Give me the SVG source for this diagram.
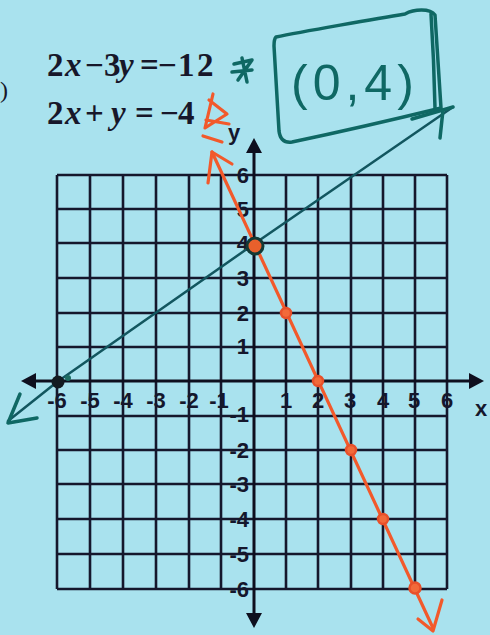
<svg xmlns="http://www.w3.org/2000/svg" width="490" height="635" viewBox="0 0 490 635">
<style>
.grid{stroke:#15172c;stroke-width:2.6;fill:none}
.axis{stroke:#0e0f1e;stroke-width:3;fill:none}
.head{fill:#0e0f1e}
.lbl{font-family:"Liberation Sans",Arial,sans-serif;font-size:22px;font-weight:bold;fill:#15172c}
.eq{font-family:"Liberation Serif","Times New Roman",serif;font-weight:bold;font-size:33px;fill:#17172a}
.it{font-style:italic}
.teal{stroke:#12565f;stroke-width:2.5;fill:none;stroke-linecap:round;stroke-linejoin:round}
.pen{stroke:#0f6864;stroke-width:3.5;fill:none;stroke-linecap:round;stroke-linejoin:round}
.org{stroke:#f2592b;stroke-width:3.2;fill:none;stroke-linecap:round;stroke-linejoin:round}
.pt{fill:#f26a3a;stroke:#e8502a;stroke-width:2.5}
</style>
<rect width="490" height="635" fill="#a9e2ee"/>

<g id="grid" class="grid">
<path d="M57,175V589M90,175V589M123,175V589M156,175V589M189,175V589M221,175V589M286,175V589M318,175V589M351,175V589M383,175V589M415,175V589M447,175V589"/>
<path d="M57,175H447M57,209H447M57,243H447M57,278H447M57,313H447M57,347H447M57,416H447M57,450H447M57,484H447M57,519H447M57,554H447M57,589H447"/>
</g>

<g id="axes">
<path class="axis" d="M254,150V616M34,381H472"/>
<polygon class="head" points="254,138 246,153 262,153"/>
<polygon class="head" points="254,628 246,613 262,613"/>
<polygon class="head" points="21,381 36,373 36,389"/>
<polygon class="head" points="484,381 469,373 469,389"/>
<text class="lbl" x="228" y="140" font-size="24" font-weight="normal">y</text>
<text class="lbl" x="475" y="416" font-weight="normal">x</text>
</g>

<g id="x-labels" class="lbl" text-anchor="middle">
<text x="57" y="408">-6</text>
<text x="90" y="408">-5</text>
<text x="123" y="408">-4</text>
<text x="156" y="408">-3</text>
<text x="189" y="408">-2</text>
<text x="219" y="408">-1</text>
<text x="286" y="408">1</text>
<text x="318" y="408">2</text>
<text x="350" y="408">3</text>
<text x="383" y="408">4</text>
<text x="414" y="408">5</text>
<text x="447" y="408">6</text>
</g>

<g id="y-labels" class="lbl" text-anchor="end">
<text x="249" y="183">6</text>
<text x="249" y="217">5</text>
<text x="249" y="251">4</text>
<text x="249" y="286">3</text>
<text x="249" y="321">2</text>
<text x="249" y="354">1</text>
<text x="249" y="422">-1</text>
<text x="249" y="458">-2</text>
<text x="249" y="492">-3</text>
<text x="249" y="527">-4</text>
<text x="249" y="562">-5</text>
<text x="249" y="597">-6</text>
</g>

<g id="equations" class="eq">
<text y="76"><tspan x="47">2</tspan><tspan class="it" x="65">x</tspan><tspan x="85">−</tspan><tspan x="104">3</tspan><tspan class="it" x="119">y</tspan><tspan x="140">=</tspan><tspan x="158">−</tspan><tspan x="178">1</tspan><tspan x="197">2</tspan></text>
<text y="124"><tspan x="47">2</tspan><tspan class="it" x="65">x</tspan><tspan x="85">+</tspan><tspan class="it" x="111">y</tspan><tspan x="135">=</tspan><tspan x="160">−</tspan><tspan x="178">4</tspan></text>
<text x="0" y="98" font-size="24" font-weight="normal">)</text>
</g>

<g id="teal-line">
<polyline class="teal" points="8,421 57,382 254,244 453,107"/>
<path class="pen" d="M20,394L8,423L37,418"/>
<path class="pen" stroke-width="4.5" d="M412,119L453,107"/>
<path class="pen" d="M443,110L440,138"/>
<circle cx="58" cy="382" r="6.5" fill="#121a20"/>
<circle cx="68" cy="378" r="3" fill="#1d6d62"/>
</g>

<g id="orange-line">
<line class="org" x1="212" y1="152" x2="433" y2="628"/>
<path class="org" stroke-width="4" d="M208,183L212,152L232,164"/>
<path class="org" stroke-width="4" d="M418,619L433,631L442,600"/>
<circle class="pt" cx="286" cy="313" r="5"/>
<circle class="pt" cx="318" cy="381" r="5"/>
<circle class="pt" cx="351" cy="450" r="5"/>
<circle class="pt" cx="383" cy="519" r="5"/>
<circle class="pt" cx="415" cy="588" r="5.5"/>
</g>

<g id="solution">
<circle cx="255" cy="246" r="8" fill="#e8602c" stroke="#133a36" stroke-width="3"/>
<path class="pen" d="M276,37C300,32 380,18 405,14C414,9 430,8 435,15L441,108C400,118 330,134 292,142C284,143 280,139 279,131L274,46C274,41 275,38 276,37Z"/>
<path class="pen" stroke-width="3" d="M431,14Q434,60 435,108"/>
<text x="291" y="100" font-family="Liberation Sans,Arial,sans-serif" font-size="50" letter-spacing="5" fill="#0f6864">(0,4)</text>
</g>

<g id="marks">
<path class="pen" d="M234,64L252,60L238,80M242,58L247,82M232,72L252,70"/>
<path class="org" stroke-width="4" d="M213,94L205,128L227,114L209,100M206,120L229,124M203,136L222,142"/>
</g>
</svg>
